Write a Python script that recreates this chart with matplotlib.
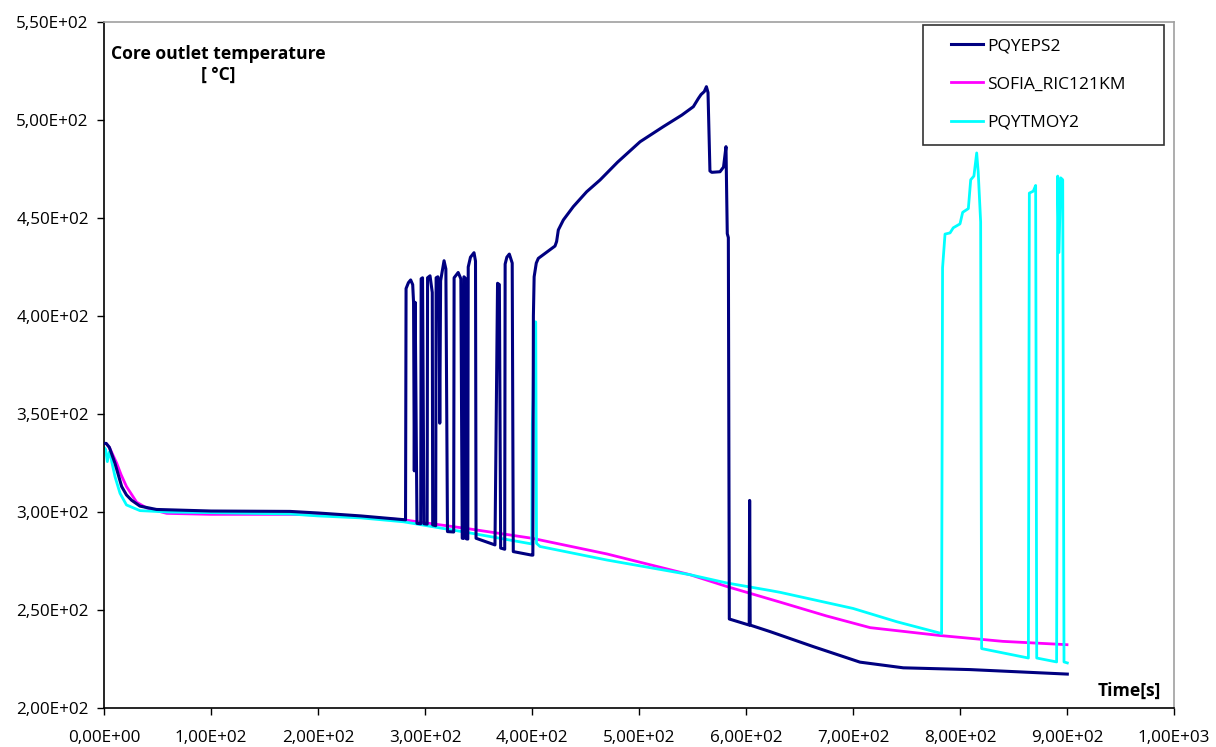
import matplotlib
matplotlib.use("Agg")
import matplotlib.pyplot as plt
from matplotlib.ticker import FuncFormatter, MultipleLocator
from matplotlib.patches import Rectangle

plt.rcParams['font.family'] = ['Open Sans', 'DejaVu Sans']

# ---- data (time [s], temperature [°C]) ----
pqyeps2_t = [0, 2, 5, 10.3, 16.5, 21, 25.8, 33.6, 49, 100, 174, 200, 240, 281.8,
             282.3, 284.5, 286.6, 288.5, 289.3, 290, 290.8, 292.5,
             296, 296.4, 297.7, 299,
             302, 302.4, 304.7, 306.8, 307.2,
             310, 310.4, 312, 313, 313.8, 314.6, 317.8, 319.5, 321,
             326.8, 327.2, 331, 333.5, 334.8,
             336, 336.4, 338, 338.6,
             340, 340.4, 342.5, 345.8, 347.2, 347.7,
             365.4, 367.8, 369.5, 370.7,
             374.5, 374.9, 376.5, 378.8, 381.5, 382.5,
             399.7, 400.8, 401.3, 402, 404, 405.9, 421.5, 423, 424.6, 429.3, 438.6,
             451.1, 463.6, 480, 501, 522.7, 540, 550.8, 555.5, 558, 561, 563, 564.5,
             566.3, 568, 575.7, 579, 581.3, 582, 582.5, 583.5, 584.4,
             603, 603.4, 603.9, 622.4, 663, 706.5, 747, 809.3, 900.3]
pqyeps2_v = [335, 335, 333, 324.8, 313, 308.7, 306, 303, 301.3, 300.5, 300.3, 299.5, 298, 296,
             414, 417, 418.4, 416, 407, 321, 407, 294.2,
             294, 419, 419.5, 294,
             293.8, 419.5, 420.5, 412, 293.4,
             293, 419.5, 420, 416.7, 345.3, 418, 428.2, 424, 290,
             289.8, 419.5, 422.2, 419, 286.6,
             286.5, 420, 419, 286.3,
             286.2, 425, 430, 432.3, 428, 286.6,
             283.2, 416.7, 416, 281.6,
             281, 426.5, 430, 431.6, 427, 279.8,
             278, 278, 400, 420, 427, 429.4, 435.7, 438, 443.9, 449, 455.8,
             463.4, 469.4, 478.5, 488.9, 496.6, 502.5, 506.8, 511, 513, 514.5, 517, 514,
             474, 473.3, 473.6, 476, 486.4, 460, 442, 440, 245.4,
             242.3, 305.9, 242.3, 239, 231.3, 223.4, 220.5, 219.6, 217.3]

sofia_t = [0, 2, 5, 11.8, 16, 21, 30.5, 40, 58.6, 100, 174, 200, 240, 280, 340, 400,
           470, 547.7, 582, 632, 675, 716, 781, 840, 900]
sofia_v = [335, 335, 333, 325, 319, 313, 305, 302, 299.3, 298.8, 298.8, 298.5, 297.5, 296,
           291.5, 286.6, 278.6, 268, 262, 254, 247, 241, 237, 234, 232.3]

pqytmoy2_t = [0, 1.5, 3.1, 5, 6, 7.2, 10.3, 15, 21, 33.6, 60, 174, 200, 240, 280, 340,
              399.8, 400.3, 401, 401.8, 403.5, 404.2, 407.5, 470, 547.7, 582, 622, 632,
              700, 741, 782.8, 783.7, 786, 790.7, 793.7, 800, 802.5, 807.8, 810, 813,
              815.6, 817, 819.3, 820.2, 863.9, 864.8, 868.5, 870.7, 871.7, 890.3, 891.3,
              892.5, 894.1, 896, 897.2, 900.3]
pqytmoy2_v = [333, 332, 325.7, 330.6, 330, 325.7, 318, 309.5, 303.6, 300.7, 300, 299, 298,
              297, 295, 289.5, 283.7, 345, 357, 397, 397, 284, 282.4, 275.5, 268, 263.8,
              260, 259, 250.8, 244, 238, 424.6, 441.8, 442.4, 445, 447, 452.9, 454.8,
              469.5, 471.4, 483.2, 473.5, 448, 230.3, 225.5, 462.7, 463.7, 466.6, 225.5,
              223.5, 471.4, 432.4, 470.5, 469.5, 223.5, 223]

series_names = ['PQYEPS2', 'SOFIA_RIC121KM', 'PQYTMOY2']
series_colors = ['#000080', '#FF00FF', '#00FFFF']

W, H = 1216, 747
fig = plt.figure(figsize=(W / 100, H / 100), dpi=100)
ax = fig.add_axes([104 / W, 1 - 708 / H, (1174 - 104) / W, (708 - 22) / H])

ax.plot(pqyeps2_t, pqyeps2_v, color=series_colors[0], lw=2.2, label=series_names[0], zorder=3)
ax.plot(sofia_t, sofia_v, color=series_colors[1], lw=2.0, label=series_names[1], zorder=2)
ax.plot(pqytmoy2_t, pqytmoy2_v, color=series_colors[2], lw=2.0, label=series_names[2], zorder=2)

ax.set_xlim(0, 1000)
ax.set_ylim(200, 550)
ax.xaxis.set_major_locator(MultipleLocator(100))
ax.yaxis.set_major_locator(MultipleLocator(50))
fmt = FuncFormatter(lambda v, p: f"{v:.2E}".replace('.', ','))
ax.xaxis.set_major_formatter(fmt)
ax.yaxis.set_major_formatter(fmt)
ax.tick_params(axis='both', direction='out', length=5, width=1, labelsize=12.3,
               color='black', labelcolor='black')
ax.tick_params(axis='y', pad=6)
ax.tick_params(axis='x', pad=11)

for s in ['left', 'bottom']:
    ax.spines[s].set_color('black')
    ax.spines[s].set_linewidth(1.2)
for s in ['top', 'right']:
    ax.spines[s].set_color('#A0A0A0')
    ax.spines[s].set_linewidth(1.2)

fig.text(111 / W, 1 - 54 / H, 'Core outlet temperature', fontsize=12.6, fontweight='bold',
         ha='left', va='center')
fig.text(218 / W, 1 - 75 / H, '[ °C]', fontsize=12.6, fontweight='bold', ha='center', va='center')
fig.text(1161 / W, 1 - 691 / H, 'Time[s]', fontsize=12.6, fontweight='bold', ha='right', va='center')

# legend frame
frame = Rectangle((923 / W, 1 - 145 / H), (1164 - 923) / W, (145 - 25) / H,
                  transform=fig.transFigure, facecolor='white',
                  edgecolor='#333333', linewidth=1.2, zorder=4, clip_on=False)
ax.add_patch(frame)
leg = ax.legend(loc='upper left', bbox_to_anchor=(951 / W, 1 - 38 / H),
                bbox_transform=fig.transFigure, frameon=False, fontsize=12.5,
                borderpad=0, borderaxespad=0, handlelength=1.85, handletextpad=0.22,
                labelspacing=1.28)
leg.set_zorder(5)

fig.savefig('out.png', dpi=100)
